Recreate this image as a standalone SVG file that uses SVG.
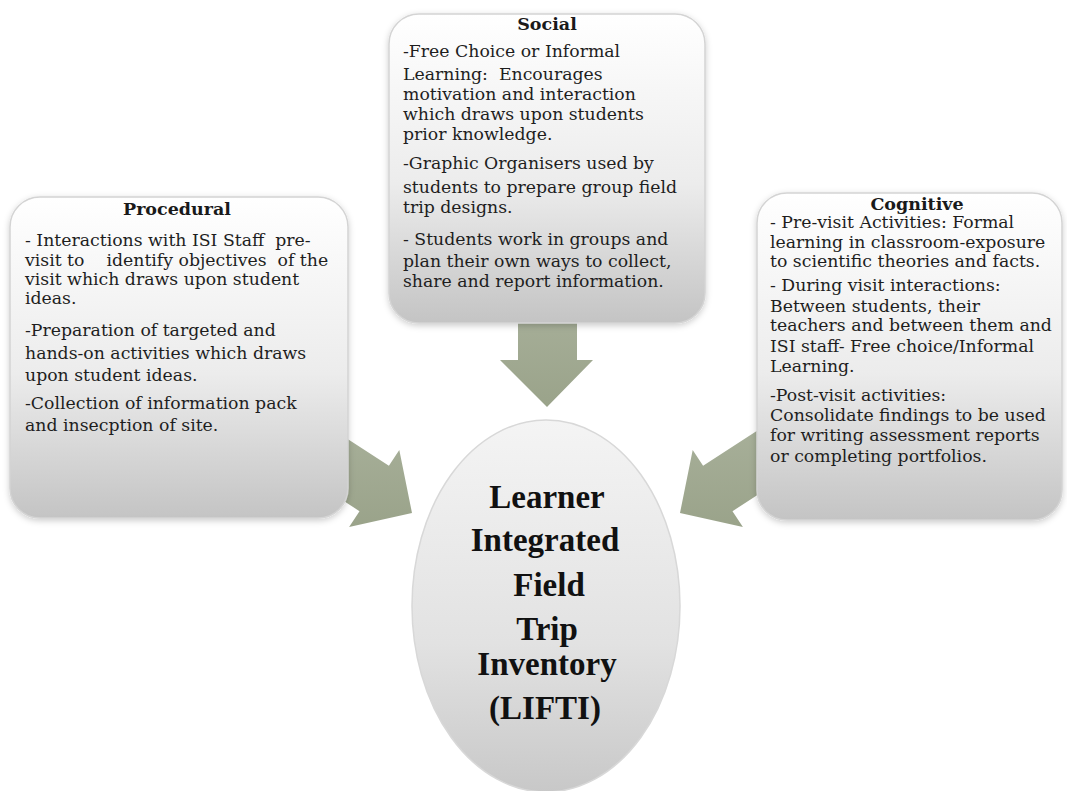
<svg xmlns="http://www.w3.org/2000/svg" width="1067" height="791" viewBox="0 0 1067 791">
<style>
.box{stroke:#d4d4d4;stroke-width:1.5;fill:url(#boxg);filter:url(#sh)}
.arrow{fill:url(#arrg)}
.title{font-family:"DejaVu Serif",serif;font-weight:bold;font-size:17.5px;fill:#1a1a1a;text-anchor:middle}
.body{font-family:"DejaVu Serif",serif;font-size:17.3px;fill:#1e1e1e}
.big{font-family:"Liberation Serif",serif;font-weight:bold;font-size:33px;fill:#111;text-anchor:middle}
</style>
<defs>
<linearGradient id="boxg" x1="0" y1="0" x2="0" y2="1">
<stop offset="0" stop-color="#ffffff"/>
<stop offset="0.55" stop-color="#ececec"/>
<stop offset="1" stop-color="#c4c4c4"/>
</linearGradient>
<linearGradient id="ellg" x1="0" y1="0" x2="0" y2="1">
<stop offset="0" stop-color="#f4f4f4"/>
<stop offset="0.6" stop-color="#e2e2e2"/>
<stop offset="1" stop-color="#c8c8c8"/>
</linearGradient>
<linearGradient id="arrg" x1="0" y1="0" x2="0" y2="1">
<stop offset="0" stop-color="#a8b09a"/>
<stop offset="1" stop-color="#9aa38a"/>
</linearGradient>
<filter id="sh" x="-10%" y="-10%" width="120%" height="120%">
<feDropShadow dx="0" dy="2" stdDeviation="3" flood-color="#000" flood-opacity="0.2"/>
</filter>
</defs>
<rect width="1067" height="791" fill="#ffffff"/>
<g id="connectors">
<polygon class="arrow" points="292.4,467.6 321.8,422.2 388.9,465.8 399.3,449.9 412,513 349.1,527.1 359.5,511.2"/>
<polygon class="arrow" points="799.6,467.6 770.2,422.2 703.1,465.8 692.7,449.9 680,513 742.9,527.1 732.5,511.2"/>
<polygon class="arrow" points="518,300 577,300 577,360 593,360 547,407 500,360 518,360"/>
</g>
<g id="procedural">
<rect class="box" x="10" y="197" width="338" height="321" rx="30"/>
<text class="title" x="177" y="215">Procedural</text>
<text class="body" xml:space="preserve"><tspan x="25" y="246">- Interactions with ISI Staff  pre-</tspan><tspan x="25" y="266">visit to    identify objectives  of the</tspan><tspan x="25" y="285">visit which draws upon student</tspan><tspan x="25" y="304">ideas.</tspan><tspan x="25" y="336">-Preparation of targeted and</tspan><tspan x="25" y="359">hands-on activities which draws</tspan><tspan x="25" y="381">upon student ideas.</tspan><tspan x="25" y="409">-Collection of information pack</tspan><tspan x="25" y="431">and insecption of site.</tspan></text>
</g>
<g id="social">
<rect class="box" x="389" y="14" width="316" height="309" rx="30"/>
<text class="title" x="547" y="30">Social</text>
<text class="body" xml:space="preserve"><tspan x="403" y="57">-Free Choice or Informal</tspan><tspan x="403" y="80">Learning:  Encourages</tspan><tspan x="403" y="100">motivation and interaction</tspan><tspan x="403" y="120">which draws upon students</tspan><tspan x="403" y="140">prior knowledge.</tspan><tspan x="403" y="169">-Graphic Organisers used by</tspan><tspan x="403" y="193">students to prepare group field</tspan><tspan x="403" y="213">trip designs.</tspan><tspan x="403" y="245">- Students work in groups and</tspan><tspan x="403" y="267">plan their own ways to collect,</tspan><tspan x="403" y="287">share and report information.</tspan></text>
</g>
<g id="cognitive">
<rect class="box" x="757" y="193" width="305" height="327" rx="30"/>
<text class="title" x="917" y="210">Cognitive</text>
<text class="body"><tspan x="770" y="228">- Pre-visit Activities: Formal</tspan><tspan x="770" y="248">learning in classroom-exposure</tspan><tspan x="770" y="267">to scientific theories and facts.</tspan><tspan x="770" y="291">- During visit interactions:</tspan><tspan x="770" y="312">Between students, their</tspan><tspan x="770" y="331">teachers and between them and</tspan><tspan x="770" y="352">ISI staff- Free choice/Informal</tspan><tspan x="770" y="372">Learning.</tspan><tspan x="770" y="401">-Post-visit activities:</tspan><tspan x="770" y="421">Consolidate findings to be used</tspan><tspan x="770" y="441">for writing assessment reports</tspan><tspan x="770" y="462">or completing portfolios.</tspan></text>
</g>
<g id="lifti">
<ellipse cx="546" cy="606" rx="134" ry="186" fill="url(#ellg)" stroke="#d8d8d8" stroke-width="1.5"/>
<text class="big" x="547" y="508">Learner</text>
<text class="big" x="545" y="551">Integrated</text>
<text class="big" x="549" y="596">Field</text>
<text class="big" x="547" y="640">Trip</text>
<text class="big" x="547" y="675">Inventory</text>
<text class="big" x="545" y="719">(LIFTI)</text>
</g>
</svg>
